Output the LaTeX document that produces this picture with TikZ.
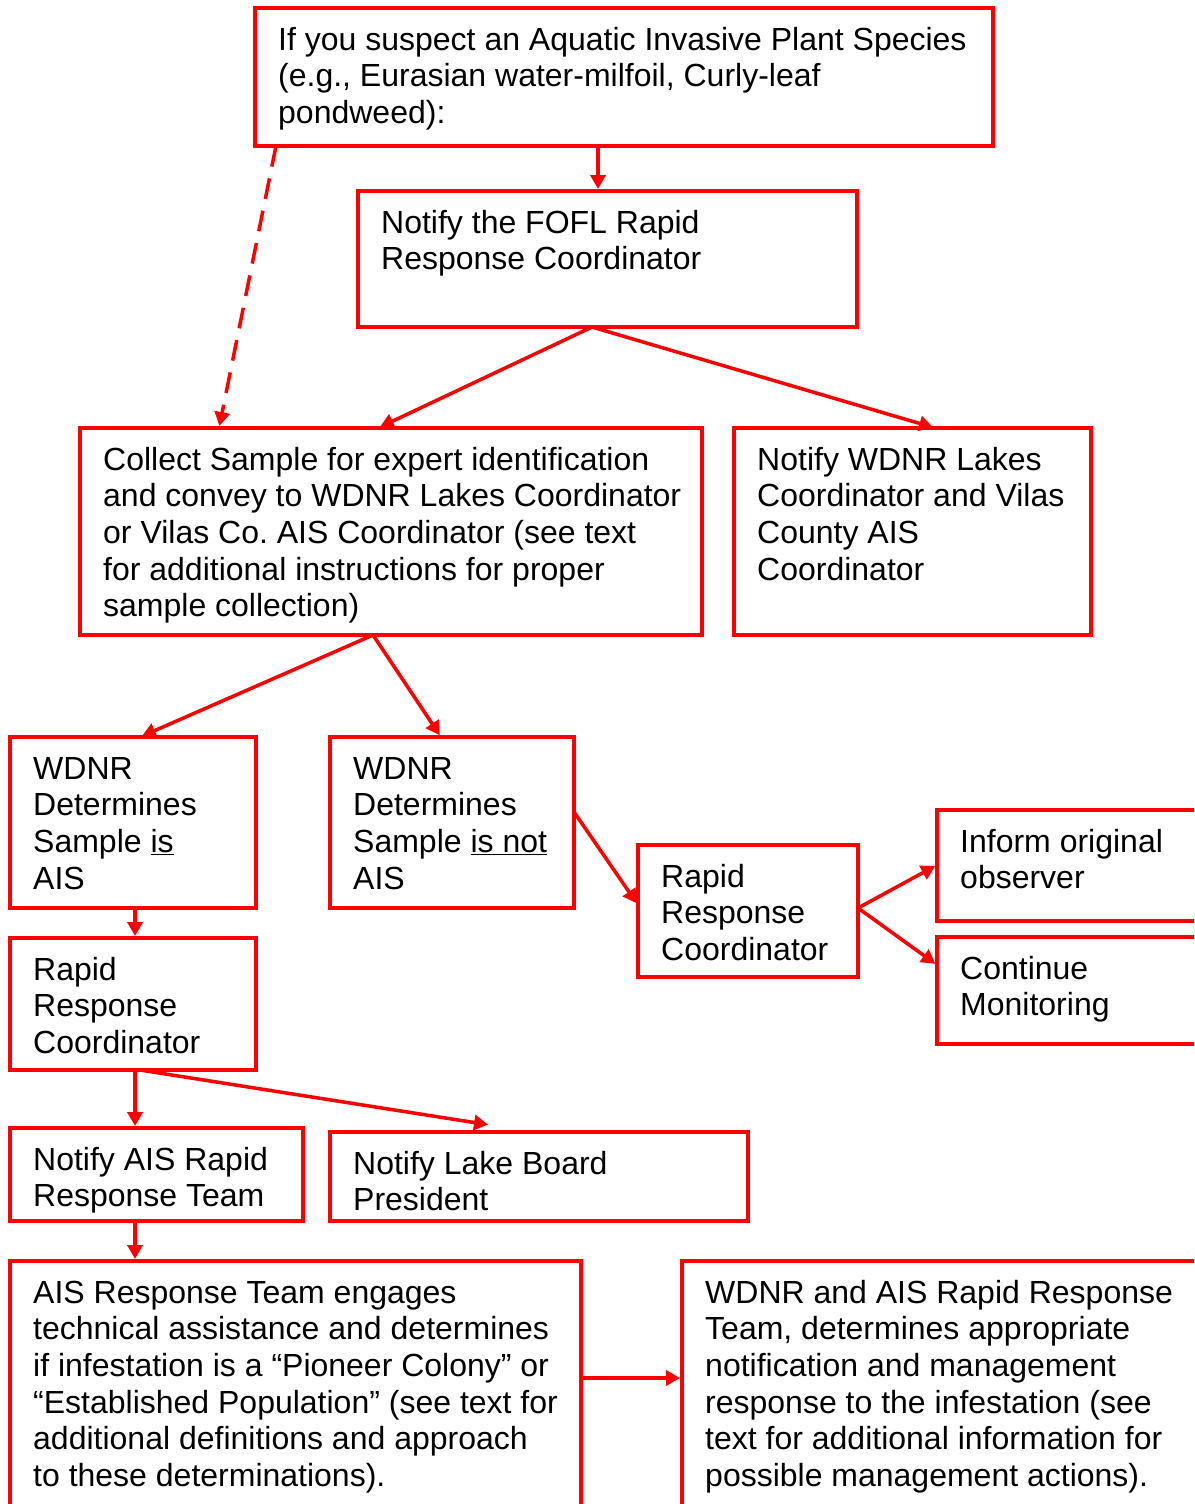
\documentclass[tikz,border=0pt]{standalone}
\usepackage{fontspec}
\setmainfont{Liberation Sans}
\usetikzlibrary{arrows.meta,calc}
\definecolor{boxred}{RGB}{255,0,0}
\frenchspacing
\begin{document}
\begin{tikzpicture}[x=1pt,y=-1pt,
  box/.style={draw=boxred, line width=4.5pt, rectangle, inner sep=0pt, outer sep=0pt, anchor=north west},
  txt/.style={anchor=north west, inner sep=0pt, align=left, font=\fontsize{32}{36.6}\selectfont\frenchspacing},
  arr/.style={draw=boxred, line width=3.5pt, shorten >=2pt, -{Triangle[length=14pt,width=15pt]}},
  dasharr/.style={arr, dash pattern=on 21pt off 12pt}
]
\useasboundingbox (0,0) rectangle (1194,1504);
\clip (0,0) rectangle (1194,1504);

% boxes
\node (b1) [box, minimum width=738, minimum height=138] at (255,8) {};
\node (b2) [box, minimum width=499, minimum height=136] at (358,191) {};
\node (b3) [box, minimum width=622, minimum height=207] at (80,428) {};
\node (b4) [box, minimum width=357, minimum height=207] at (734,428) {};
\node (b5) [box, minimum width=246, minimum height=171] at (10,737) {};
\node (b6) [box, minimum width=244, minimum height=171] at (330,737) {};
\node (b7) [box, minimum width=220, minimum height=132] at (638,845) {};
\node (b8) [box, minimum width=300, minimum height=111] at (937,810) {};
\node (b9) [box, minimum width=300, minimum height=107] at (937,937) {};
\node (b10) [box, minimum width=246, minimum height=132] at (10,938) {};
\node (b11) [box, minimum width=293, minimum height=93] at (10,1128) {};
\node (b12) [box, minimum width=418, minimum height=89] at (330,1132) {};
\node (b13) [box, minimum width=571, minimum height=300] at (10,1261) {};
\node (b14) [box, minimum width=600, minimum height=300] at (682,1261) {};

% texts
\node (t1) [txt] at ($(b1.north west)+(23,16.4)$) {\strut If you suspect an Aquatic Invasive Plant Species\\(e.g., Eurasian water-milfoil, Curly-leaf\\pondweed):};
\node (t2) [txt] at ($(b2.north west)+(23,16.4)$) {\strut Notify the FOFL Rapid\\Response Coordinator};
\node (t3) [txt] at ($(b3.north west)+(23,16.4)$) {\strut Collect Sample for expert identification\\and convey to WDNR Lakes Coordinator\\or Vilas Co. AIS Coordinator (see text\\for additional instructions for proper\\sample collection)};
\node (t4) [txt] at ($(b4.north west)+(23,16.4)$) {\strut Notify WDNR Lakes\\Coordinator and Vilas\\County AIS\\Coordinator};
\node (t5) [txt] at ($(b5.north west)+(23,16.4)$) {\strut WDNR\\Determines\\Sample \underline{is}\\AIS};
\node (t6) [txt] at ($(b6.north west)+(23,16.4)$) {\strut WDNR\\Determines\\Sample \underline{is not}\\AIS};
\node (t7) [txt] at ($(b7.north west)+(23,16.4)$) {\strut Rapid\\Response\\Coordinator};
\node (t8) [txt] at ($(b8.north west)+(23,16.4)$) {\strut Inform original\\observer};
\node (t9) [txt] at ($(b9.north west)+(23,16.4)$) {\strut Continue\\Monitoring};
\node (t10) [txt] at ($(b10.north west)+(23,16.4)$) {\strut Rapid\\Response\\Coordinator};
\node (t11) [txt] at ($(b11.north west)+(23,16.4)$) {\strut Notify AIS Rapid\\Response Team};
\node (t12) [txt] at ($(b12.north west)+(23,16.4)$) {\strut Notify Lake Board\\President};
\node (t13) [txt] at ($(b13.north west)+(23,16.4)$) {\strut AIS Response Team engages\\technical assistance and determines\\if infestation is a “Pioneer Colony” or\\“Established Population” (see text for\\additional definitions and approach\\to these determinations).};
\node (t14) [txt] at ($(b14.north west)+(23,16.4)$) {\strut WDNR and AIS Rapid Response\\Team, determines appropriate\\notification and management\\response to the infestation (see\\text for additional information for\\possible management actions).};

% connectors
\draw[arr] ([xshift=343pt]b1.south west) -- ([xshift=240pt]b2.north west);
\draw[dasharr] ([xshift=21pt]b1.south west) -- ([xshift=139pt]b3.north west);
\draw[arr] ([xshift=234pt]b2.south west) -- ([xshift=298pt]b3.north west);
\draw[arr] ([xshift=234pt]b2.south west) -- ([xshift=201pt]b4.north west);
\draw[arr] ([xshift=293pt]b3.south west) -- ([xshift=130pt]b5.north west);
\draw[arr] ([xshift=293pt]b3.south west) -- ([xshift=111pt]b6.north west);
\draw[arr] ([yshift=-75pt]b6.north east) -- ([yshift=-60pt]b7.north west);
\draw[arr] ([yshift=-63pt]b7.north east) -- ([yshift=-55pt]b8.north west);
\draw[arr] ([yshift=-63pt]b7.north east) -- ([yshift=-28pt]b9.north west);
\draw[arr] ([xshift=125pt]b5.south west) -- ([xshift=125pt]b10.north west);
\draw[arr] ([xshift=125pt]b10.south west) -- ([xshift=125pt]b11.north west);
\draw[arr] ([xshift=130pt]b10.south west) -- ([xshift=160pt,yshift=7pt]b12.north west);
\draw[arr] ([xshift=125pt]b11.south west) -- ([xshift=125pt]b13.north west);
\draw[arr] ([yshift=-117pt]b13.north east) -- ([yshift=-117pt]b14.north west);
\end{tikzpicture}
\end{document}
